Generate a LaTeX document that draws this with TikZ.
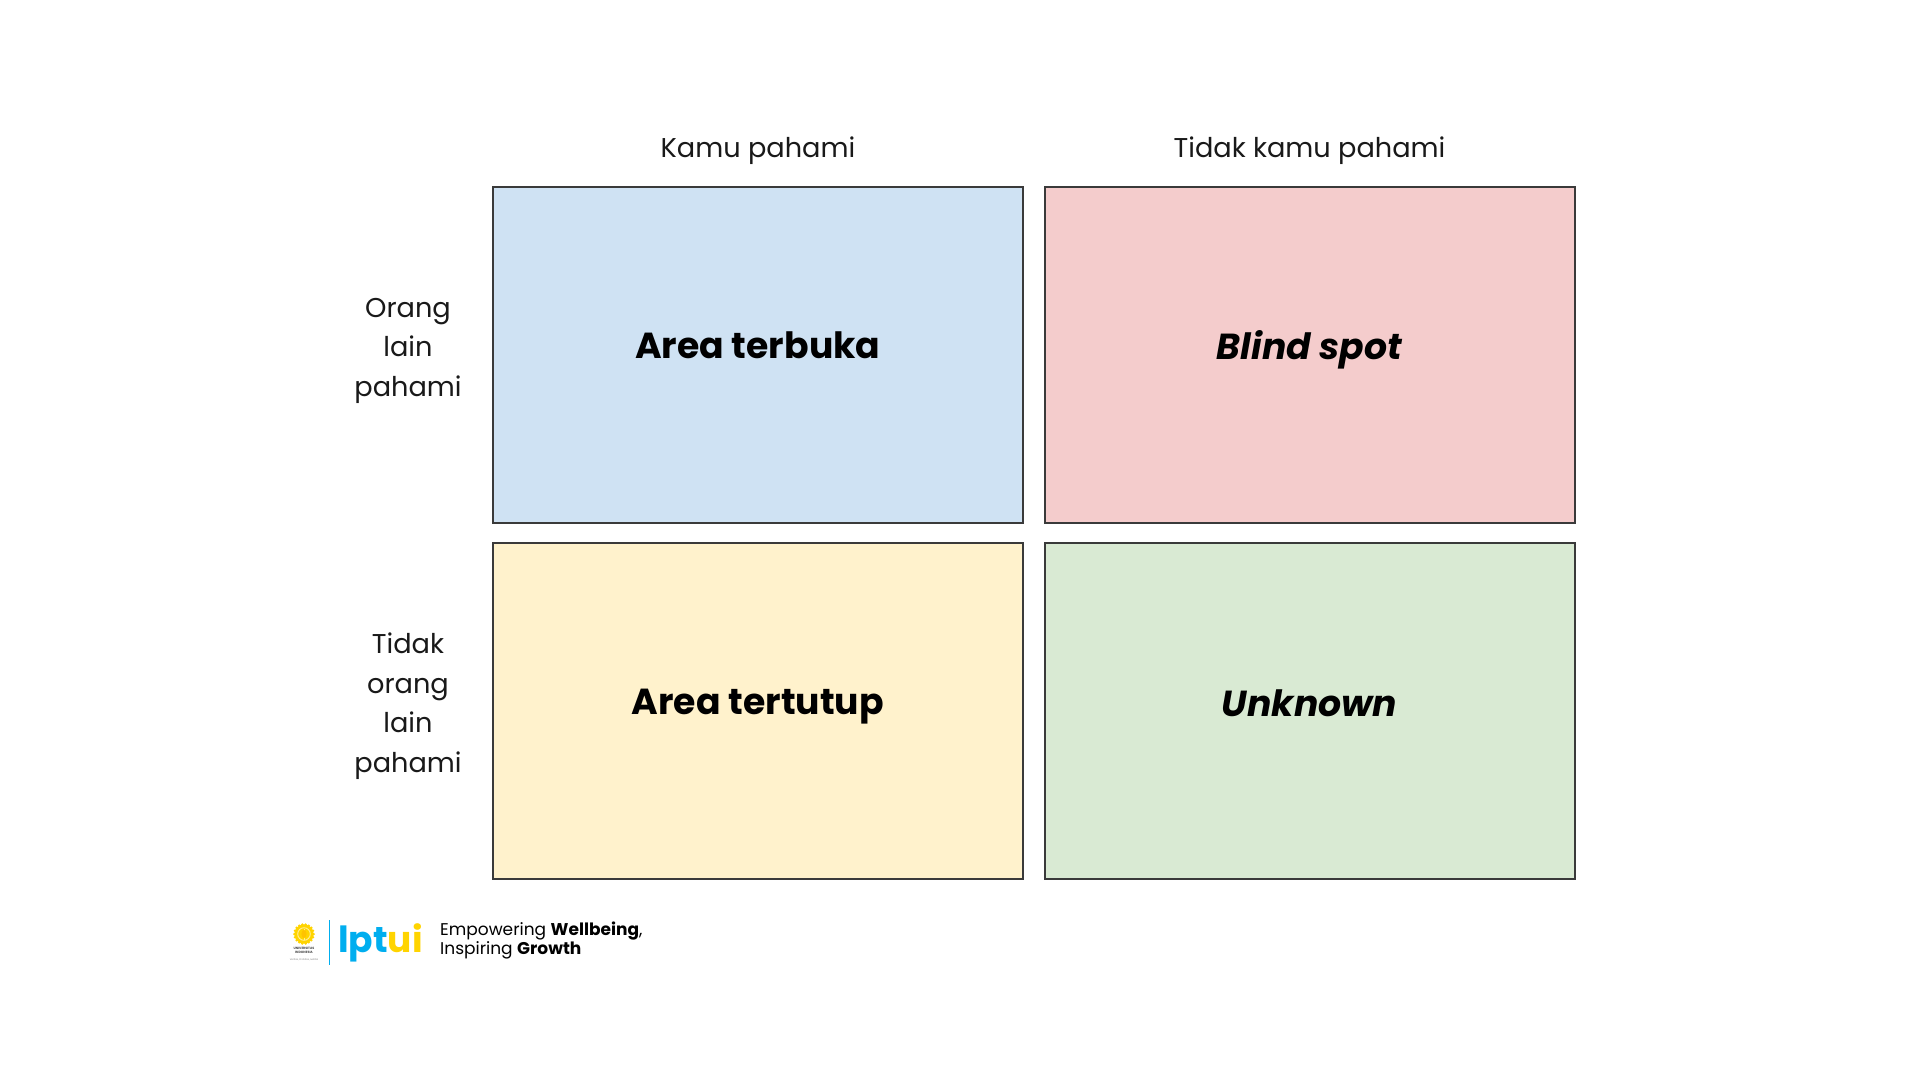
\documentclass[tikz,border=0pt]{standalone}
\usepackage{fontspec}
\setmainfont{Poppins}
\definecolor{edge}{HTML}{3A3A3A}
\definecolor{cblue}{HTML}{CFE2F3}
\definecolor{cred}{HTML}{F4CCCC}
\definecolor{cyel}{HTML}{FFF2CC}
\definecolor{cgrn}{HTML}{D9EAD3}
\definecolor{lblue}{HTML}{00AEEF}
\definecolor{lyel}{HTML}{FFD400}
\tikzset{
 quad/.style={draw=edge,line width=1.8pt,minimum width=530pt,minimum height=336pt,inner sep=0pt,anchor=north west},
 quadtext/.style={font=\fontsize{36.2}{42}\selectfont\bfseries,text=black},
 axis/.style={font=\fontsize{27.2}{39.5}\selectfont,text=black!90,align=center,inner sep=0pt},
 tag/.style={font=\fontsize{17}{19}\selectfont,text=black,align=left,inner sep=0pt,anchor=north west},
}
\begin{document}
\begin{tikzpicture}[x=1pt,y=-1pt]
\useasboundingbox (0,0) rectangle (1920,1080);
\fill[white] (0,0) rectangle (1920,1080);
\node[quad,fill=cblue] (a) at (491.8,186) {};
\node[quad,fill=cred] (b) at (1043.8,186) {};
\node[quad,fill=cyel] (c) at (491.8,542.2) {};
\node[quad,fill=cgrn] (d) at (1043.8,542.2) {};
\node[quadtext] (ta) at (757.8,345.6) {Area terbuka};
\node[quadtext] (tb) at (1309.5,350) {\itshape Blind spot};
\node[quadtext] (tc) at (757.8,707) {Area tertutup};
\node[quadtext] (td) at (1309.5,703) {\itshape Unknown};
\node[axis] (h1) at (758,150.5) {Kamu pahami};
\node[axis] (h2) at (1309.5,150.5) {Tidak kamu pahami};
\node[axis] (v1) at (408,350.5) {Orang\\lain\\pahami};
\node[axis] (v2) at (408,706) {Tidak\\orang\\lain\\pahami};
% logo
\foreach \a in {0,20,...,340}{\fill[lyel] (304,934)++(\a:9.5) circle (1.5);}
\fill[lyel] (304,934) circle (9.5);
\draw[white!60!lyel,line width=.9pt] (304,934) circle (6.3);
\draw[white!60!lyel,line width=.6pt] (304,928.5) -- (304,939.5);
\fill[lyel!80!orange] (304,934) ellipse (2.6 and 4.2);
\node[font=\fontsize{3.2}{3.6}\selectfont\bfseries,align=center,inner sep=0pt,text=black!70] (ui) at (304,950.5) {UNIVERSITAS\\INDONESIA};
\node[font=\fontsize{2.4}{2.6}\selectfont,inner sep=0pt,text=black!50] (uv) at (304,959.5) {Veritas, Probitas, Iustitia};
\draw[lblue,line width=1.6pt] (329.5,920) -- (329.5,964.5);
\node[font=\fontsize{36}{36}\selectfont\bfseries,inner sep=0pt,anchor=base west] (lg) at (338,952) {\textcolor{lblue}{lpt}\textcolor{lyel}{ui}};
\node[tag] (t1) at (440,921.5) {Empowering \textbf{Wellbeing},\\Inspiring \textbf{Growth}};
\end{tikzpicture}
\end{document}
